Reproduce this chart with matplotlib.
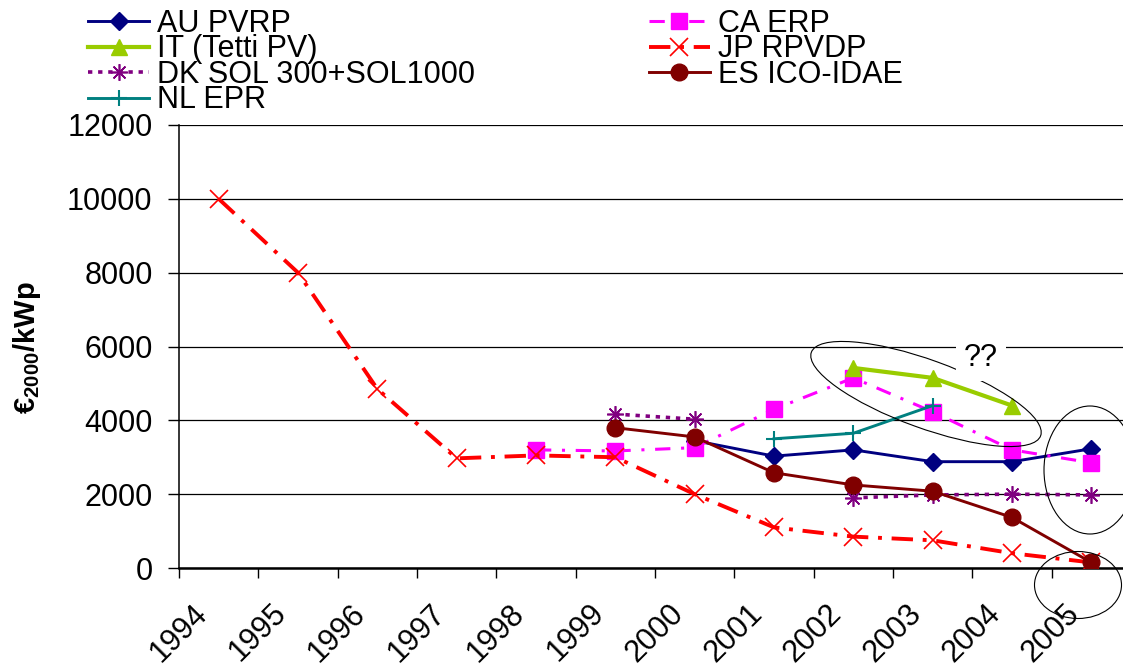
"""PV system prices per programme, 1994-2005."""

import matplotlib
matplotlib.use("Agg")
import matplotlib.pyplot as plt
import numpy as np
from matplotlib.patches import Ellipse

nan = np.nan

years = ["1994", "1995", "1996", "1997", "1998", "1999",
         "2000", "2001", "2002", "2003", "2004", "2005"]

au_pvrp = [nan, nan, nan, nan, nan, nan, 3450, 3030, 3200, 2880, 2880, 3230]
ca_erp = [nan, nan, nan, nan, 3200, 3170, 3260, 4300, 5150, 4230, 3200, 2850]
it_tetti = [nan, nan, nan, nan, nan, nan, nan, nan, 5420, 5150, 4400, nan]
jp_rpvdp = [10000, 8000, 4850, 2970, 3050, 3000, 2000, 1100, 850, 750, 400, 150]
dk_sol = [nan, nan, nan, nan, nan, 4170, 4030, nan, 1900, 1980, 2000, 1980]
es_ico = [nan, nan, nan, nan, nan, 3800, 3550, 2580, 2250, 2080, 1370, 150]
nl_epr = [nan, nan, nan, nan, nan, nan, nan, 3500, 3650, 4400, nan, nan]

plt.rcParams["font.family"] = ["Liberation Sans", "DejaVu Sans"]
plt.rcParams["mathtext.fontset"] = "custom"
plt.rcParams["mathtext.rm"] = "Liberation Sans"
plt.rcParams["mathtext.bf"] = "Liberation Sans:bold"

W, H = 1123, 670
fig = plt.figure(figsize=(W / 100, H / 100), dpi=100)
ax = fig.add_axes([179 / W, 102 / H, (1131 - 179) / W, 443 / H])

x = np.arange(len(years))

# series in workbook order (controls drawing order)
h_au, = ax.plot(x, au_pvrp, color="#000080", lw=2.1, marker="D", ms=9,
                label="AU PVRP", zorder=3)
h_ca, = ax.plot(x, ca_erp, color="#FF00FF", lw=2.2, dashes=(5, 3.5, 1, 3.5),
                marker="s", ms=11, label="CA ERP", zorder=3)
h_it, = ax.plot(x, it_tetti, color="#99CC00", lw=3, marker="^", ms=12,
                label="IT (Tetti PV)", zorder=3)
h_jp, = ax.plot(x, jp_rpvdp, color="#FF0000", lw=2.8, dashes=(5.5, 2.5, 1, 2.5),
                marker="x", ms=13, mew=1.2, label="JP RPVDP", zorder=3)
h_dk, = ax.plot(x, dk_sol, color="#800080", lw=2.6, dashes=(1.2, 1.6),
                dash_capstyle="butt", marker=(8, 2, 0), ms=12, mew=1.2,
                label="DK SOL 300+SOL1000", zorder=3)
h_es, = ax.plot(x, es_ico, color="#800000", lw=2.1, marker="o", ms=12,
                label="ES ICO-IDAE", zorder=3)
h_nl, = ax.plot(x, nl_epr, color="#008080", lw=2.1, marker="+", ms=11, mew=1.5,
                label="NL EPR", zorder=3)

ax.set_xlim(-0.5, len(years) - 0.5)
ax.set_ylim(0, 12000)

# y axis
ax.set_yticks(np.arange(0, 12001, 2000))
ax.tick_params(axis="y", direction="out", length=8, width=1, pad=11,
               labelsize=22, colors="black")
ax.yaxis.grid(True, color="black", lw=0.9)
ax.set_axisbelow(True)

# x axis: marks between categories, labels rotated below each category
ax.set_xticks(np.arange(-0.5, len(years), 1.0))
ax.set_xticklabels([])
ax.tick_params(axis="x", direction="out", length=7, width=1, colors="black")
for i, yr in enumerate(years):
    ax.annotate(yr, xy=(i, 0), xycoords=("data", "axes fraction"),
                xytext=(-11.5, -29.5), textcoords="offset points",
                rotation=45, ha="right", va="center",
                rotation_mode="anchor", fontsize=22)

for side in ["top", "right"]:
    ax.spines[side].set_visible(False)
ax.spines["left"].set_linewidth(1.1)
ax.spines["bottom"].set_linewidth(1.8)

fig.text(27 / W, 1 - 348 / H, r"€$_{\mathbf{2000}}$/kWp", rotation=90,
         ha="center", va="center", fontsize=21, fontweight="bold")

# highlight rings
inch = fig.dpi_scale_trans
for cx, cy, w, h, ang in [(926, 394, 244, 68, -20),
                          (1090, 470, 92, 128, 0),
                          (1078, 585, 87, 67, 0)]:
    ax.add_patch(Ellipse((cx / 100, (H - cy) / 100), w / 100, h / 100,
                         angle=ang, fill=False, ec="black", lw=0.8,
                         transform=inch, clip_on=False, zorder=4))

fig.text(981 / W, 1 - 358 / H, "??", ha="center", va="center", fontsize=22,
         bbox=dict(fc="white", ec="none", pad=6), zorder=5)

fig.legend(handles=[h_au, h_it, h_dk, h_nl, h_ca, h_jp, h_es],
           loc="upper left", bbox_to_anchor=(88 / W, 1 - 9 / H),
           ncol=2, frameon=False, fontsize=22, borderpad=0,
           borderaxespad=0, labelspacing=-0.15, handlelength=2.0,
           handletextpad=0.25, columnspacing=5.7)

fig.savefig("out.png", dpi=100)
